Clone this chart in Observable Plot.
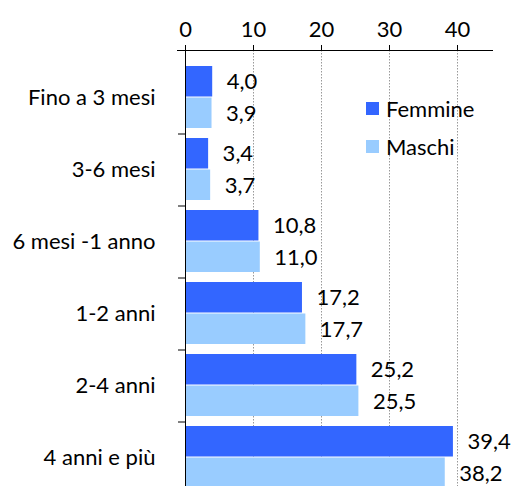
<!DOCTYPE html>
<html><head><meta charset="utf-8">
<script src="https://cdn.jsdelivr.net/npm/d3@7"></script>
<script src="https://cdn.jsdelivr.net/npm/@observablehq/plot@0.6"></script>
<style>
body{margin:0;background:#fff;}
#wrap{position:relative;width:523px;height:486px;overflow:hidden;font-family:Lato,sans-serif;}
.leg{position:absolute;left:366px;height:26px;display:flex;align-items:center;font-size:22px;color:#000;font-family:Lato,sans-serif;}
.sw{width:13px;height:13px;margin-right:7px;}
</style></head><body><div id="wrap"></div>
<script>
const categories = ["Fino a 3 mesi", "3-6 mesi", "6 mesi -1 anno", "1-2 anni", "2-4 anni", "4 anni e più"];
const femmine = [4.0, 3.4, 10.8, 17.2, 25.2, 39.4];
const maschi = [3.9, 3.7, 11.0, 17.7, 25.5, 38.2];
const series = ["Femmine", "Maschi"];
const colors = ["#3366FF", "#99CCFF"];
const xTicks = [0, 10, 20, 30, 40];

const F = categories.map((c, i) => ({cat: c, sex: series[0], v: femmine[i]}));
const M = categories.map((c, i) => ({cat: c, sex: series[1], v: maschi[i]}));
const fmt = v => d3.format(".1f")(v).replace(".", ",");
const half = 31.5;

const plot = Plot.plot({
  width: 523, height: 486,
  marginTop: 50, marginLeft: 177, marginRight: 31, marginBottom: 0,
  style: {fontFamily: "Lato, sans-serif", fontSize: "22px", color: "#000", background: "#fff", overflow: "visible"},
  x: {domain: [0, 45], range: [185, 491]},
  y: {domain: categories, range: [53, 501], padding: 0.137},
  color: {domain: series, range: colors},
  marks: [
    Plot.gridX(xTicks.slice(1), {stroke: "#999", strokeOpacity: 1, strokeDasharray: "1.5,1.5"}),
    Plot.barX(F, {x: "v", y: "cat", fill: "sex", insetBottom: half}),
    Plot.barX(M, {x: "v", y: "cat", fill: "sex", insetTop: half}),
    Plot.text(F, {x: "v", y: "cat", text: d => fmt(d.v), textAnchor: "start", dx: 14, dy: -16, fill: "#000"}),
    Plot.text(M, {x: "v", y: "cat", text: d => fmt(d.v), textAnchor: "start", dx: 14, dy: 16, fill: "#000"}),
    Plot.axisX({anchor: "top", ticks: xTicks, tickSize: 6, tickPadding: 8, label: null, stroke: "#000"}),
    Plot.frame({anchor: "top", stroke: "#000"}),
    Plot.ruleX([0], {stroke: "#000"}),
    Plot.axisY({tickSize: 0, tickPadding: 22, label: null}),
    Plot.axisY({tickSize: 7, tickFormat: () => "", dx: 8, dy: 36.5, label: null, stroke: "#000", strokeOpacity: 1})
  ]
});
const wrap = document.getElementById("wrap");
wrap.appendChild(plot);
const tops = [95.5, 133];
series.forEach((s, i) => {
  const d = document.createElement("div");
  d.className = "leg";
  d.style.top = tops[i] + "px";
  d.innerHTML = `<span class="sw" style="background:${colors[i]}"></span><span>${s}</span>`;
  wrap.appendChild(d);
});
</script>
</body></html>
